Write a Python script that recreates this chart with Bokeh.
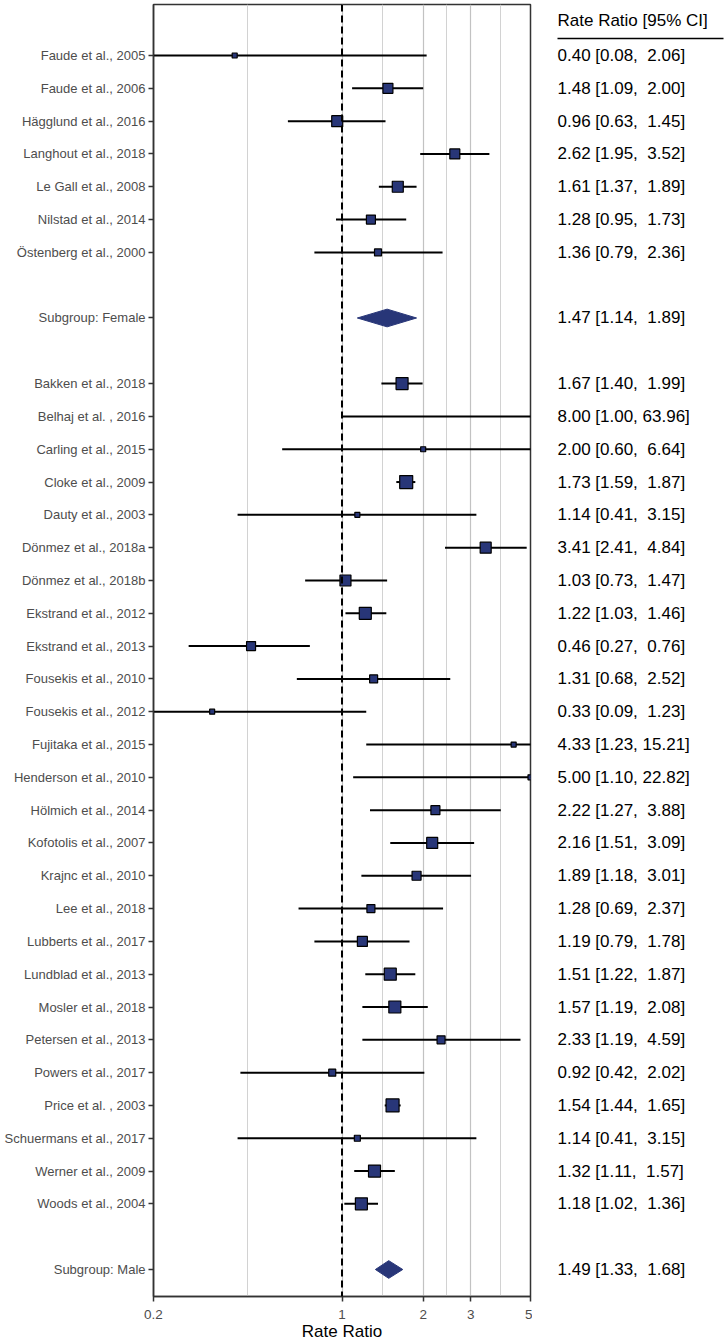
from bokeh.plotting import figure
from bokeh.layouts import row
from bokeh.models import Range1d, FixedTicker, NumeralTickFormatter, Span
from bokeh.embed import file_html
from bokeh.resources import INLINE
from bokeh.core.properties import value

FONT = "Liberation Sans"

# ---------------- data ----------------
female_studies = ["Faude et al., 2005", "Faude et al., 2006", "Hägglund et al., 2016",
                  "Langhout et al., 2018", "Le Gall et al., 2008", "Nilstad et al., 2014",
                  "Östenberg et al., 2000"]
female_est = [0.40, 1.48, 0.96, 2.62, 1.61, 1.28, 1.36]
female_lo = [0.08, 1.09, 0.63, 1.95, 1.37, 0.95, 0.79]
female_hi = [2.06, 2.00, 1.45, 3.52, 1.89, 1.73, 2.36]
female_weight = [5, 10, 11, 10, 11, 9, 7]
female_summary = [1.47, 1.14, 1.89]

male_studies = ["Bakken et al., 2018", "Belhaj et al. , 2016", "Carling et al., 2015",
                "Cloke et al., 2009", "Dauty et al., 2003", "Dönmez et al., 2018a",
                "Dönmez et al., 2018b", "Ekstrand et al., 2012", "Ekstrand et al., 2013",
                "Fousekis et al., 2010", "Fousekis et al., 2012", "Fujitaka et al., 2015",
                "Henderson et al., 2010", "Hölmich et al., 2014", "Kofotolis et al., 2007",
                "Krajnc et al., 2010", "Lee et al., 2018", "Lubberts et al., 2017",
                "Lundblad et al., 2013", "Mosler et al., 2018", "Petersen et al., 2013",
                "Powers et al., 2017", "Price et al. , 2003", "Schuermans et al., 2017",
                "Werner et al., 2009", "Woods et al., 2004"]
male_est = [1.67, 8.00, 2.00, 1.73, 1.14, 3.41, 1.03, 1.22, 0.46, 1.31, 0.33, 4.33, 5.00,
            2.22, 2.16, 1.89, 1.28, 1.19, 1.51, 1.57, 2.33, 0.92, 1.54, 1.14, 1.32, 1.18]
male_lo = [1.40, 1.00, 0.60, 1.59, 0.41, 2.41, 0.73, 1.03, 0.27, 0.68, 0.09, 1.23, 1.10,
           1.27, 1.51, 1.18, 0.69, 0.79, 1.22, 1.19, 1.19, 0.42, 1.44, 0.41, 1.11, 1.02]
male_hi = [1.99, 63.96, 6.64, 1.87, 3.15, 4.84, 1.47, 1.46, 0.76, 2.52, 1.23, 15.21, 22.82,
           3.88, 3.09, 3.01, 2.37, 1.78, 1.87, 2.08, 4.59, 2.02, 1.65, 3.15, 1.57, 1.36]
male_weight = [12, 4, 5, 13, 5, 11, 11, 12, 9, 8, 5, 5, 5, 9, 11, 9, 8, 10, 12, 12, 8, 7,
               13, 6, 12, 12]
male_summary = [1.49, 1.33, 1.68]

x_ticks = [0.2, 1, 2, 3, 5]
x_minor = [0.447, 1.414, 2.449, 3.873]

# ---------------- rows ----------------
n_f = len(female_studies)
f_rows = list(range(1, n_f + 1))
f_sum_row = n_f + 2
m_rows = list(range(f_sum_row + 2, f_sum_row + 2 + len(male_studies)))
m_sum_row = m_rows[-1] + 2

study_rows = f_rows + m_rows
study_est = female_est + male_est
study_lo = female_lo + male_lo
study_hi = female_hi + male_hi
study_w = female_weight + male_weight

labels = {}
for r, s in zip(f_rows, female_studies):
    labels[r] = s
labels[f_sum_row] = "Subgroup: Female"
for r, s in zip(m_rows, male_studies):
    labels[r] = s
labels[m_sum_row] = "Subgroup: Male"

ROW_PX = 32.81
FRAME_H = 1292
y_top = -0.555
y_bot = y_top + FRAME_H / ROW_PX
yr = Range1d(y_bot, y_top)

NAVY = "#283678"

# ---------------- main plot ----------------
p = figure(frame_width=377, frame_height=FRAME_H, x_axis_type="log",
           x_range=Range1d(0.2, 5), y_range=yr,
           output_backend="svg", toolbar_location=None,
           min_border_left=153, min_border_right=2, min_border_top=4, min_border_bottom=0)
p.outline_line_color = "#333333"
p.outline_line_width = 1.5
p.ygrid.grid_line_color = None
p.xgrid.grid_line_color = "#c2c2c2"
p.xgrid.grid_line_width = 1.2
p.xgrid.minor_grid_line_color = "#d2d2d2"
p.xgrid.minor_grid_line_width = 1

p.xaxis.ticker = FixedTicker(ticks=x_ticks, minor_ticks=x_minor)
p.xaxis.formatter = NumeralTickFormatter(format="0.[0]")
p.xaxis.axis_label = "Rate Ratio"
p.xaxis.axis_label_text_font = FONT
p.xaxis.axis_label_text_font_size = "17px"
p.xaxis.axis_label_text_font_style = "normal"
p.xaxis.axis_label_text_color = "black"
p.xaxis.axis_label_standoff = 0
p.xaxis.major_label_text_font = FONT
p.xaxis.major_label_text_font_size = "13.5px"
p.xaxis.major_label_text_color = "#4d4d4d"
p.xaxis.major_label_standoff = 8
p.xaxis.minor_tick_line_color = None

p.yaxis.ticker = FixedTicker(ticks=sorted(labels.keys()))
p.yaxis.major_label_overrides = {k: v for k, v in labels.items()}
p.yaxis.major_label_text_font = FONT
p.yaxis.major_label_text_font_size = "13px"
p.yaxis.major_label_text_color = "#4d4d4d"
p.yaxis.major_label_standoff = 3
p.yaxis.minor_tick_line_color = None

for ax in (p.xaxis, p.yaxis):
    ax.axis_line_color = "#333333"
    ax.axis_line_width = 1.5
    ax.major_tick_line_color = "#333333"
    ax.major_tick_line_width = 1.5
    ax.major_tick_out = 5
    ax.major_tick_in = 0

p.add_layout(Span(location=1, dimension="height", line_color="black",
                  line_dash="7 4", line_width=2))

p.segment(x0=study_lo, x1=study_hi, y0=study_rows, y1=study_rows,
          line_color="black", line_width=2)
p.scatter(x=study_est, y=study_rows, size=study_w, marker="square",
          fill_color=NAVY, line_color="black", line_width=1.2)

DH = 0.27
xs, ys = [], []
for r, (est, lo, hi) in ((f_sum_row, female_summary), (m_sum_row, male_summary)):
    xs.append([lo, est, hi, est])
    ys.append([r, r - DH, r, r + DH])
p.patches(xs=xs, ys=ys, fill_color=NAVY, line_color=NAVY, line_width=1)

# ---------------- right text column ----------------
QW = 193
q = figure(frame_width=QW, frame_height=FRAME_H, x_range=Range1d(0, QW), y_range=yr,
           output_backend="svg", toolbar_location=None,
           x_axis_location=None, y_axis_location=None,
           min_border_left=0, min_border_right=0, min_border_top=4, min_border_bottom=0)
q.outline_line_color = None
q.grid.grid_line_color = None


def fmt(est, lo, hi):
    return f"{est:.2f} [{lo:.2f}, {hi:5.2f}]".replace("  ", " \u00a0")


txt_rows = f_rows + [f_sum_row] + m_rows + [m_sum_row]
txt = ([fmt(e, l, h) for e, l, h in zip(female_est, female_lo, female_hi)]
       + [fmt(*female_summary)]
       + [fmt(e, l, h) for e, l, h in zip(male_est, male_lo, male_hi)]
       + [fmt(*male_summary)])
q.text(x=[25] * len(txt), y=txt_rows, text=txt, text_font=value(FONT),
       text_font_size="17px", text_align="left", text_baseline="middle",
       text_color="black")
q.text(x=[25], y=[-0.07], text=["Rate Ratio [95% CI]"], text_font=value(FONT),
       text_font_size="17px", text_align="left", text_baseline="middle",
       text_color="black")
q.segment(x0=[25], x1=[191], y0=[0.48], y1=[0.48], line_color="black", line_width=1.5)

layout = row(p, q)
open("out.html", "w").write(file_html(layout, INLINE))
